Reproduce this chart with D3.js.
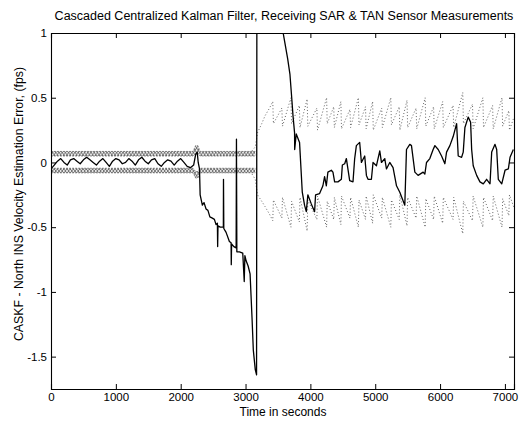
<!DOCTYPE html>
<html>
<head>
<meta charset="utf-8">
<script src="https://cdn.jsdelivr.net/npm/d3@7"></script>
<style>
  body { margin: 0; background: #fff; }
  text { font-family: "Liberation Sans", Arial, sans-serif; fill: #000; }
</style>
</head>
<body>
<svg id="chart" width="523" height="421"></svg>
<script>
// axis ticks
const xTicks = [0, 1000, 2000, 3000, 4000, 5000, 6000, 7000]
const yTicks = [-1.5, -1, -0.5, 0, 0.5, 1]

// velocity estimation error, [time, fps]
const errorTrack = [
  [0, -0.05], [50, -0.02], [100, 0.01], [150, 0.03], [200, 0.0], [250, -0.02], [300, 0.02], [350, 0.03],
  [400, 0.01], [450, -0.01], [500, 0.02], [550, 0.04], [600, 0.02], [650, 0.0], [700, -0.02], [750, 0.01],
  [800, 0.03], [850, 0.0], [900, -0.03], [950, 0.01], [1000, 0.03], [1050, 0.02], [1100, -0.01], [1150, 0.0],
  [1200, 0.03], [1250, 0.01], [1300, -0.02], [1350, 0.02], [1400, 0.04], [1450, 0.01], [1500, -0.01], [1550, 0.02],
  [1600, 0.03], [1650, -0.01], [1700, -0.03], [1750, 0.0], [1800, 0.02], [1850, 0.01], [1900, -0.02], [1950, 0.01],
  [2000, 0.03], [2050, 0.0], [2100, -0.03], [2150, -0.04], [2200, -0.02], [2230, 0.06], [2255, 0.08], [2270, 0.0],
  [2290, -0.05], [2300, -0.25], [2334, -0.33], [2360, -0.31], [2391, -0.36], [2420, -0.37], [2450, -0.42], [2488, -0.43],
  [2520, -0.44], [2545, -0.48], [2566, -0.47], [2570, -0.65], [2575, -0.49], [2610, -0.5], [2658, -0.5], [2660, -0.13],
  [2665, -0.51], [2700, -0.54], [2751, -0.61], [2777, -0.62], [2780, -0.79], [2785, -0.63], [2820, -0.65], [2855, -0.66],
  [2860, 0.18], [2866, -0.69], [2906, -0.69], [2957, -0.7], [2980, -0.92], [2990, -0.72], [3009, -0.76], [3040, -0.8],
  [3070, -0.86], [3100, -1.2], [3120, -1.45], [3150, -1.6], [3170, -1.64], [3175, 1.4], [3560, 1.4], [3580, 1.0],
  [3615, 0.9], [3650, 0.8], [3685, 0.68], [3712, 0.5], [3732, 0.36], [3756, 0.23], [3758, 0.1], [3782, 0.22],
  [3833, 0.155], [3875, -0.23], [3910, -0.33], [3937, -0.38], [3961, -0.25], [4014, -0.32], [4065, -0.38], [4080, -0.25],
  [4142, -0.24], [4193, -0.18], [4219, -0.11], [4246, -0.18], [4270, -0.075], [4323, -0.06], [4348, -0.075], [4374, -0.15],
  [4425, -0.15], [4478, -0.13], [4493, -0.02], [4529, -0.01], [4555, 0.03], [4606, -0.14], [4657, -0.15], [4683, 0.03],
  [4709, 0.13], [4760, 0.155], [4787, 0.0], [4838, 0.05], [4864, -0.1], [4889, -0.13], [4941, -0.13], [4966, 0.0],
  [5019, -0.025], [5070, 0.09], [5096, 0.0], [5147, 0.03], [5173, -0.05], [5224, 0.0], [5275, -0.04], [5328, -0.18],
  [5379, -0.23], [5456, -0.33], [5482, 0.1], [5533, 0.14], [5559, 0.13], [5611, -0.075], [5661, -0.1], [5739, -0.075],
  [5765, -0.09], [5791, 0.0], [5842, 0.03], [5893, 0.1], [5920, 0.13], [5971, 0.1], [6023, 0.05], [6074, -0.01],
  [6100, 0.08], [6151, 0.13], [6202, 0.2], [6255, 0.3], [6280, 0.05], [6332, 0.04], [6357, 0.08], [6383, 0.27],
  [6434, 0.35], [6471, 0.31], [6487, 0.1], [6511, -0.025], [6564, -0.1], [6615, -0.15], [6666, -0.165], [6718, -0.13],
  [6770, -0.165], [6796, 0.08], [6847, 0.14], [6873, 0.1], [6898, -0.13], [6951, -0.165], [7002, -0.06], [7053, -0.05],
  [7079, 0.04], [7130, 0.1]
]

// early covariance bands, [time, outer, inner]
const earlyUpperBand = [[0, 0.085, 0.05], [2190, 0.085, 0.05], [2230, 0.13, 0.07], [2265, 0.13, 0.07], [2300, 0.085, 0.05], [3150, 0.085, 0.05]]
const earlyLowerBand = [[0, -0.08, -0.045], [2190, -0.08, -0.045], [2230, -0.12, -0.07], [2265, -0.12, -0.07], [2300, -0.08, -0.045], [3150, -0.08, -0.045]]

// later one-sigma bounds, [time, fps]
const upperBound = [
  [3100, 0.09], [3150, 0.12], [3185, 0.23], [3250, 0.3], [3300, 0.36], [3370, 0.42],
  [3420, 0.47], [3430, 0.3], [3560, 0.42], [3570, 0.28], [3700, 0.5], [3710, 0.3], [3830, 0.44], [3840, 0.27],
  [3950, 0.49], [3960, 0.28], [4100, 0.42], [4110, 0.25], [4250, 0.5], [4260, 0.3], [4360, 0.43], [4370, 0.27],
  [4470, 0.47], [4480, 0.26], [4610, 0.41], [4620, 0.27], [4740, 0.5], [4750, 0.29], [4850, 0.43], [4860, 0.26],
  [4960, 0.47], [4970, 0.25], [5100, 0.42], [5110, 0.27], [5240, 0.5], [5250, 0.29], [5370, 0.43], [5380, 0.25],
  [5490, 0.48], [5500, 0.27], [5630, 0.42], [5640, 0.26], [5770, 0.5], [5780, 0.28], [5900, 0.43], [5910, 0.26],
  [6040, 0.47], [6050, 0.27], [6200, 0.44], [6210, 0.27], [6350, 0.54], [6360, 0.3], [6500, 0.45], [6510, 0.26],
  [6660, 0.5], [6670, 0.27], [6810, 0.44], [6820, 0.26], [6955, 0.5], [6965, 0.28], [7060, 0.4], [7070, 0.25], [7140, 0.35]
]
const lowerBound = [
  [3100, -0.09], [3150, -0.13], [3185, -0.25], [3250, -0.3], [3300, -0.34], [3370, -0.4],
  [3420, -0.45], [3430, -0.29], [3560, -0.43], [3570, -0.27], [3700, -0.5], [3710, -0.3], [3830, -0.46], [3840, -0.27],
  [3950, -0.53], [3960, -0.29], [4100, -0.44], [4110, -0.26], [4250, -0.5], [4260, -0.3], [4360, -0.44], [4370, -0.27],
  [4470, -0.48], [4480, -0.26], [4610, -0.43], [4620, -0.27], [4740, -0.5], [4750, -0.29], [4850, -0.44], [4860, -0.26],
  [4960, -0.47], [4970, -0.25], [5100, -0.43], [5110, -0.27], [5240, -0.5], [5250, -0.29], [5370, -0.44], [5380, -0.25],
  [5490, -0.49], [5500, -0.27], [5630, -0.43], [5640, -0.26], [5770, -0.5], [5780, -0.28], [5900, -0.44], [5910, -0.26],
  [6040, -0.47], [6050, -0.27], [6200, -0.44], [6210, -0.27], [6350, -0.55], [6360, -0.3], [6500, -0.45], [6510, -0.26],
  [6660, -0.5], [6670, -0.27], [6810, -0.45], [6820, -0.26], [6955, -0.5], [6965, -0.28], [7060, -0.41], [7070, -0.25], [7140, -0.35]
]

const svg = d3.select('#chart')
const margin = { top: 33, right: 9, bottom: 32, left: 51 }
const width = 523 - margin.left - margin.right
const height = 421 - margin.top - margin.bottom

const x = d3.scaleLinear().domain([0, 7140]).range([0, width])
const y = d3.scaleLinear().domain([-1.75, 1]).range([height, 0])

const defs = svg.append('defs')
defs.append('clipPath').attr('id', 'clip')
  .append('rect').attr('width', width).attr('height', height)

const beads = defs.append('pattern')
  .attr('id', 'beads')
  .attr('patternUnits', 'userSpaceOnUse')
  .attr('width', 3.2).attr('height', 4.6)
beads.append('ellipse')
  .attr('cx', 1.6).attr('cy', 2.3).attr('rx', 1.3).attr('ry', 1.9)
  .attr('fill', 'none').attr('stroke', '#333').attr('stroke-width', 0.7)

const g = svg.append('g').attr('transform', `translate(${margin.left},${margin.top})`)
const plot = g.append('g').attr('clip-path', 'url(#clip)')

// early beaded bands
const band = d3.area().x(d => x(d[0])).y0(d => y(d[1])).y1(d => y(d[2]))
;[earlyUpperBand, earlyLowerBand].forEach(b => {
  plot.append('path').datum(b).attr('d', band).attr('fill', 'url(#beads)')
  plot.append('path').datum(b).attr('d', d3.line().x(d => x(d[0])).y(d => y(d[1])))
    .attr('fill', 'none').attr('stroke', '#444').attr('stroke-width', 0.6).attr('stroke-dasharray', '2,1')
  plot.append('path').datum(b).attr('d', d3.line().x(d => x(d[0])).y(d => y(d[2])))
    .attr('fill', 'none').attr('stroke', '#444').attr('stroke-width', 0.6).attr('stroke-dasharray', '2,1')
})

const line = d3.line().x(d => x(d[0])).y(d => y(d[1]))

// dotted sigma bounds
;[upperBound, lowerBound].forEach(b => {
  plot.append('path').datum(b).attr('d', line)
    .attr('fill', 'none').attr('stroke', '#666').attr('stroke-width', 1)
    .attr('stroke-dasharray', '1,2.2')
})

plot.append('path').datum(errorTrack).attr('d', line)
  .attr('fill', 'none').attr('stroke', '#000').attr('stroke-width', 1.3)
  .attr('stroke-linejoin', 'round')

// axes, matlab style inward ticks on all sides
const tick = 5
g.append('g').attr('transform', `translate(0,${height})`)
  .call(d3.axisBottom(x).tickValues(xTicks).tickSize(-tick).tickPadding(4).tickFormat(d3.format('d')))
g.append('g')
  .call(d3.axisTop(x).tickValues(xTicks).tickSize(-tick).tickFormat(''))
g.append('g')
  .call(d3.axisLeft(y).tickValues(yTicks).tickSize(-tick).tickPadding(4).tickFormat(d => d))
g.append('g').attr('transform', `translate(${width},0)`)
  .call(d3.axisRight(y).tickValues(yTicks).tickSize(-tick).tickFormat(''))

g.selectAll('.domain').attr('stroke', '#000').attr('stroke-width', 1.1)
g.selectAll('.tick line').attr('stroke', '#000')
g.selectAll('.tick text').attr('font-size', 11.5).attr('font-family', '"Liberation Sans", Arial, sans-serif')

svg.append('text')
  .attr('x', 284).attr('y', 20)
  .attr('text-anchor', 'middle').attr('font-size', 12.5)
  .text('Cascaded Centralized Kalman Filter, Receiving SAR & TAN Sensor Measurements')

svg.append('text')
  .attr('x', 283).attr('y', 416)
  .attr('text-anchor', 'middle').attr('font-size', 12)
  .text('Time in seconds')

svg.append('text')
  .attr('transform', 'translate(23,204) rotate(-90)')
  .attr('text-anchor', 'middle').attr('font-size', 12.3)
  .text('CASKF - North INS Velocity Estimation Error, (fps)')
</script>
</body>
</html>
